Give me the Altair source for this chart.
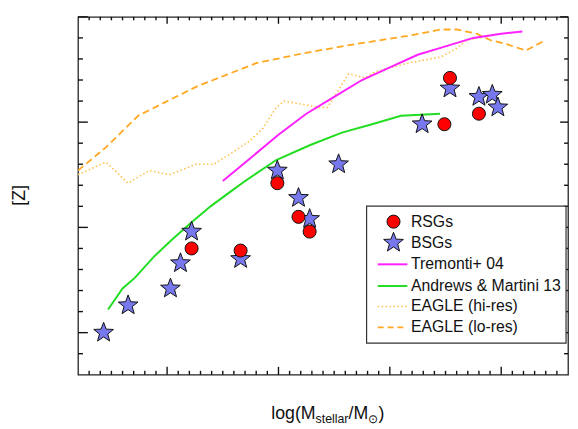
import altair as alt
import pandas as pd

# ---------------- data ----------------
rsg_x = [8.22, 8.66, 8.99, 9.18, 9.28, 10.49, 10.54, 10.80]
rsg_z = [-0.60, -0.61, -0.29, -0.45, -0.52, -0.01, 0.21, 0.04]

bsg_x = [7.43, 7.65, 8.03, 8.12, 8.22, 8.66, 8.99, 9.18, 9.28, 9.54, 10.29, 10.54, 10.80, 10.92, 10.97]
bsg_z = [-1.00, -0.87, -0.79, -0.67, -0.52, -0.65, -0.23, -0.36, -0.46, -0.20, -0.01, 0.16, 0.12, 0.13, 0.07]

t04_x = [8.50, 8.75, 9.00, 9.25, 9.50, 9.75, 10.00, 10.25, 10.50, 10.75, 11.00, 11.19]
t04_z = [-0.28, -0.17, -0.06, 0.04, 0.12, 0.20, 0.26, 0.32, 0.36, 0.40, 0.42, 0.43]

am13_x = [7.47, 7.60, 7.71, 7.88, 8.04, 8.21, 8.39, 8.57, 8.70, 8.98, 9.28, 9.57, 9.84, 10.10, 10.45]
am13_z = [-0.89, -0.79, -0.74, -0.64, -0.56, -0.48, -0.40, -0.33, -0.28, -0.18, -0.11, -0.05, -0.01, 0.03, 0.04]

hi_x = [7.20, 7.45, 7.65, 7.84, 8.02, 8.26, 8.42, 8.57, 8.74, 8.86, 8.98, 9.05, 9.16, 9.36, 9.44,
        9.63, 9.78, 9.87, 10.16, 10.46, 10.60, 10.69, 10.90]
hi_z = [-0.25, -0.19, -0.29, -0.23, -0.25, -0.20, -0.20, -0.15, -0.09, -0.03, 0.07, 0.10, 0.09, 0.07, 0.07,
        0.23, 0.21, 0.24, 0.28, 0.31, 0.35, 0.39, 0.41]

lo_x = [7.20, 7.45, 7.74, 8.04, 8.27, 8.51, 8.80, 9.16, 9.57, 10.16, 10.46, 10.60, 10.78, 10.90, 11.05, 11.22, 11.40]
lo_z = [-0.23, -0.12, 0.03, 0.11, 0.17, 0.22, 0.28, 0.32, 0.36, 0.41, 0.44, 0.44, 0.42, 0.39, 0.37, 0.34, 0.39]

legend_labels = ["RSGs", "BSGs", "Tremonti+ 04", "Andrews & Martini 13", "EAGLE (hi-res)", "EAGLE (lo-res)"]

x_major = [8, 9, 10, 11]
y_major = [-1.0, -0.5, 0.0, 0.5]
x_minor = [round(7.3 + 0.1 * i, 1) for i in range(43)]
x_minor = [v for v in x_minor if abs(v - round(v)) > 1e-6]
y_minor = [round(-1.1 + 0.1 * i, 1) for i in range(16)]
y_minor = [v for v in y_minor if abs(v * 2 - round(v * 2)) > 1e-6]

# ---------------- layout ----------------
W, H = 497, 363
XMIN, XMAX, YMIN, YMAX = 7.2, 11.6, -1.2, 0.5
PX_X = W / (XMAX - XMIN)
PX_Y = H / (YMAX - YMIN)
FONT = "Liberation Sans"
TICK = "#111"
xs = alt.Scale(domain=[XMIN, XMAX], nice=False, zero=False)
ys = alt.Scale(domain=[YMIN, YMAX], nice=False, zero=False)
xaxis = alt.Axis(values=x_major, format="d", ticks=False, domain=False, grid=False, title=None,
                 labelFontSize=17, labelFont=FONT, labelColor="#111", labelPadding=9,
                 labelFlush=False, orient="bottom")
yaxis = alt.Axis(values=y_major, format=".1f", ticks=False, domain=False, grid=False, title=None,
                 labelFontSize=17, labelFont=FONT, labelColor="#111", labelPadding=6,
                 labelFlush=False, orient="left")


def X(f):
    return alt.X(f, scale=xs, axis=xaxis)


def Y(f):
    return alt.Y(f, scale=ys, axis=yaxis)


STAR = ("M0,-1L0.247,-0.34L0.951,-0.309L0.399,0.13L0.588,0.809L0,0.42"
        "L-0.588,0.809L-0.399,0.13L-0.951,-0.309L-0.247,-0.34Z")

C_RSG = "#FF0000"
C_BSG = "#7878EE"
C_T04 = "#FF22FF"
C_AM = "#22DD22"
C_HI = "#FFC04A"
C_LO = "#FFA820"
S_RSG = 175
S_BSG = 440


# ---------------- inward ticks on all four sides ----------------
def xticks(vals, length, top):
    edge = YMAX if top else YMIN
    inner = YMAX - length / PX_Y if top else YMIN + length / PX_Y
    df = pd.DataFrame({"tv": vals, "ta": [edge] * len(vals), "tb": [inner] * len(vals)})
    return alt.Chart(df).mark_rule(color=TICK, strokeWidth=1.4).encode(
        x=alt.X("tv:Q", scale=xs, axis=None), y=alt.Y("ta:Q", scale=ys, axis=None), y2="tb:Q")


def yticks(vals, length, right):
    edge = XMAX if right else XMIN
    inner = XMAX - length / PX_X if right else XMIN + length / PX_X
    df = pd.DataFrame({"tv": vals, "ta": [edge] * len(vals), "tb": [inner] * len(vals)})
    return alt.Chart(df).mark_rule(color=TICK, strokeWidth=1.4).encode(
        y=alt.Y("tv:Q", scale=ys, axis=None), x=alt.X("ta:Q", scale=xs, axis=None), x2="tb:Q")


ticks = [
    xticks(x_major, 8, False), xticks(x_minor, 4, False),
    xticks(x_major, 7, True), xticks(x_minor, 3.5, True),
    yticks(y_major, 10, False), yticks(y_minor, 5, False),
    yticks(y_major, 8, True), yticks(y_minor, 4, True),
]


def curve(xv, zv, color, width, dash=None):
    df = pd.DataFrame({"x": xv, "z": zv})
    kw = dict(color=color, strokeWidth=width, clip=True)
    if dash is not None:
        kw["strokeDash"] = dash
    return alt.Chart(df).mark_line(**kw).encode(x=X("x:Q"), y=Y("z:Q"), order="x:Q")


lines = [
    curve(lo_x, lo_z, C_LO, 1.8, [7, 4]),
    curve(hi_x, hi_z, C_HI, 1.6, [1.5, 2.5]),
    curve(t04_x, t04_z, C_T04, 2.0),
    curve(am13_x, am13_z, C_AM, 2.0),
]

rsg_df = pd.DataFrame({"x": rsg_x, "z": rsg_z})
bsg_df = pd.DataFrame({"x": bsg_x, "z": bsg_z})

stars = alt.Chart(bsg_df).mark_point(shape=STAR, filled=True, fill=C_BSG, stroke="#111",
                                     strokeWidth=1, opacity=1, size=S_BSG).encode(
    x=X("x:Q"), y=Y("z:Q"))
circles = alt.Chart(rsg_df).mark_point(shape="circle", filled=True, fill=C_RSG, stroke="#111",
                                       strokeWidth=1, opacity=1, size=S_RSG).encode(
    x=X("x:Q"), y=Y("z:Q"))

# ---------------- axis titles ----------------
one = pd.DataFrame({"a": [0]})


def label(text, x, y, size, **kw):
    return alt.Chart(one).mark_text(text=text, fontSize=size, font=FONT, color="#111", **kw).encode(
        x=alt.value(x), y=alt.value(y))


x0 = 196
base = 408
titles = [
    label("log(M", x0, base, 18, align="left", baseline="alphabetic"),
    label("stellar", x0 + 45, base + 4, 12.5, align="left", baseline="alphabetic"),
    label("/M", x0 + 45 + 33.3, base, 18, align="left", baseline="alphabetic"),
    label("\u2299", x0 + 45 + 33.3 + 20, base + 4, 12, align="left", baseline="alphabetic"),
    label(")", x0 + 45 + 33.3 + 20 + 10.5, base, 18, align="left", baseline="alphabetic"),
    label("[Z]", -59, 181, 18, angle=270, align="center", baseline="middle"),
]

# ---------------- legend ----------------
LX0, LX1, LY0, LY1 = 292.7, 495, 192, 331
rows = [207.7, 229, 251, 273, 293.7, 315]
legend = [
    alt.Chart(one).mark_rect(fill="white", stroke="#333", strokeWidth=1.2).encode(
        x=alt.value(LX0), x2=alt.value(LX1), y=alt.value(LY0), y2=alt.value(LY1)),
    alt.Chart(one).mark_point(shape="circle", filled=True, fill=C_RSG, stroke="#111", strokeWidth=1,
                              opacity=1, size=S_RSG).encode(x=alt.value(320), y=alt.value(rows[0])),
    alt.Chart(one).mark_point(shape=STAR, filled=True, fill=C_BSG, stroke="#111", strokeWidth=1,
                              opacity=1, size=S_BSG).encode(x=alt.value(320), y=alt.value(rows[1])),
]
styles = [(C_T04, 2.0, None), (C_AM, 2.0, None), (C_HI, 1.6, [1.5, 2.5]), (C_LO, 1.8, [6, 4])]
for (col, wdt, dash), ry in zip(styles, rows[2:]):
    kw = dict(color=col, strokeWidth=wdt)
    if dash is not None:
        kw["strokeDash"] = dash
    legend.append(alt.Chart(one).mark_rule(**kw).encode(
        x=alt.value(304), x2=alt.value(334), y=alt.value(ry)))
for txt, ry in zip(legend_labels, rows):
    legend.append(label(txt, 337.7, ry, 16, align="left", baseline="middle"))

chart = alt.layer(*lines, *ticks, stars, circles, *legend, *titles).properties(
    width=W, height=H,
    autosize=alt.AutoSizeParams(type="none"),
    padding={"left": 71, "top": 6, "right": 2, "bottom": 50},
).configure_view(stroke="#222", strokeWidth=1.3)

chart.save("out.html", embed_options={"renderer": "svg", "actions": False})
